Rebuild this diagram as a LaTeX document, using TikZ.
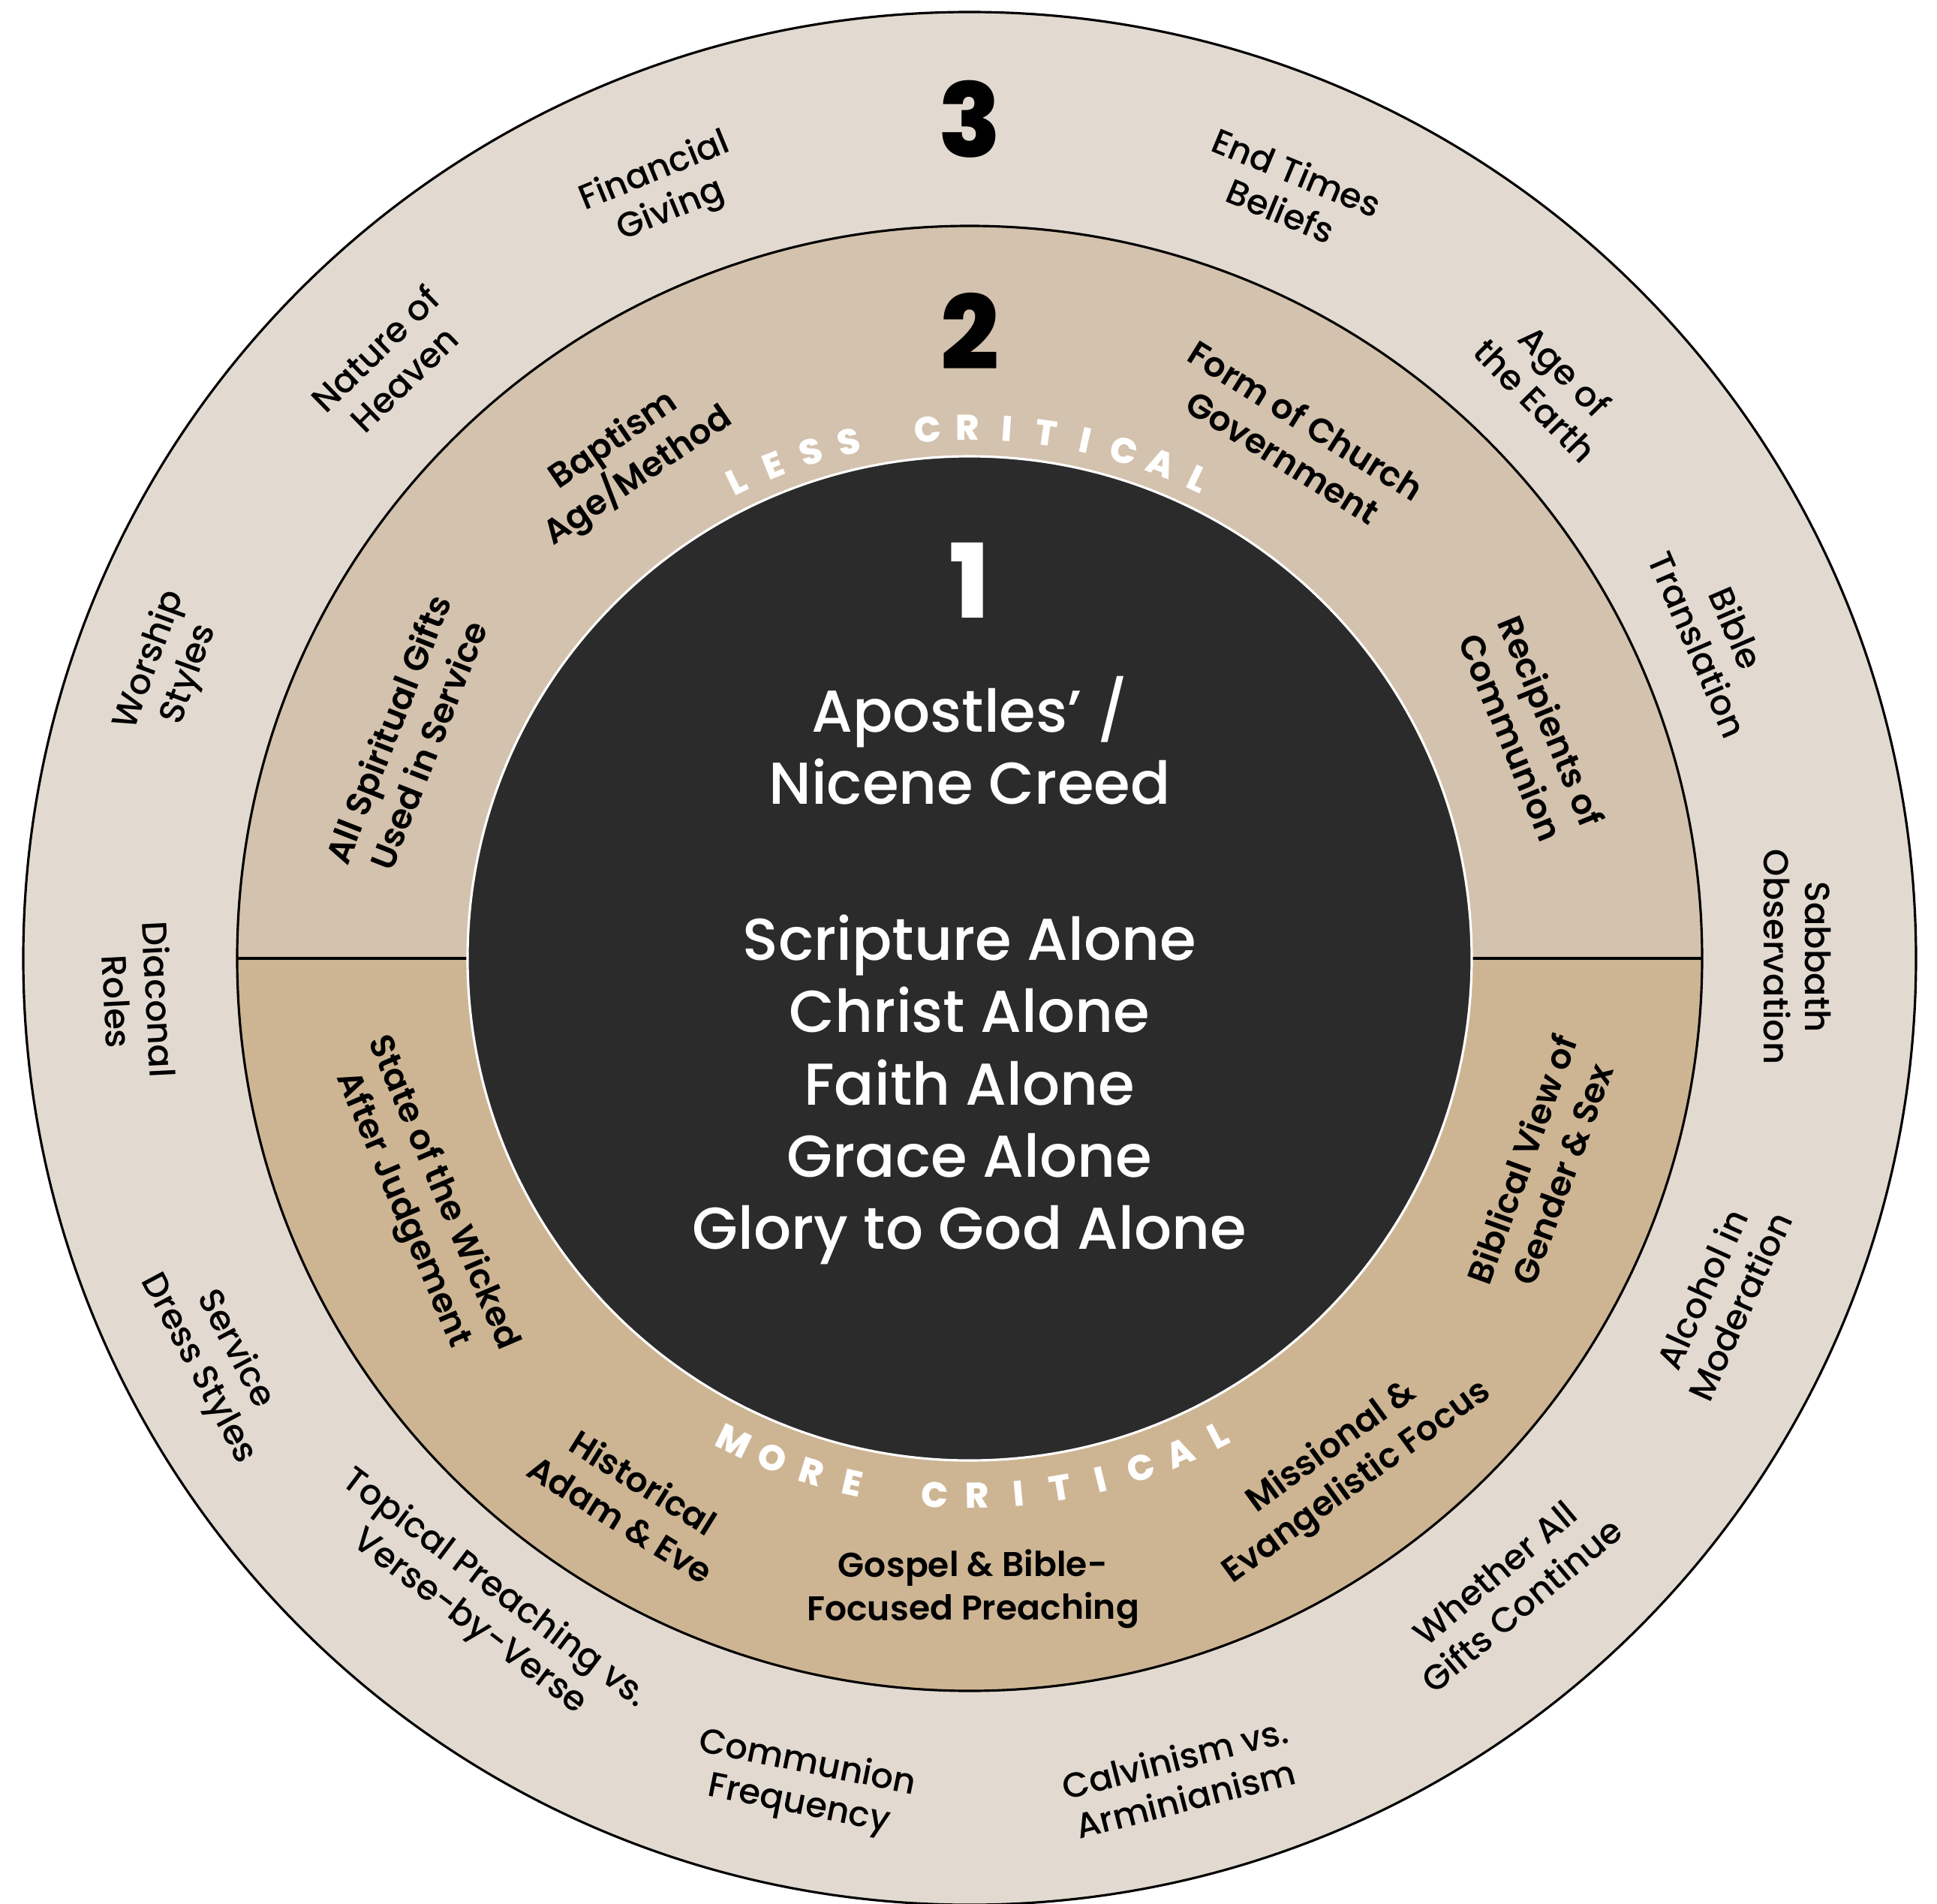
\documentclass[tikz,border=0pt]{standalone}
\usepackage{fontspec}
\setmainfont{Poppins}[UprightFont={* Medium},BoldFont={* ExtraBold}]
\newfontfamily\semifont{Poppins SemiBold}

\definecolor{outerring}{HTML}{E2DAD0}
\definecolor{upperring}{HTML}{D3C2AD}
\definecolor{lowerring}{HTML}{CDB594}
\definecolor{corefill}{HTML}{2B2B2B}

\begin{document}
\begin{tikzpicture}[x=1cm,y=1cm]

	\tikzstyle{ring_text} = [align=center, inner sep=0pt, font=\fontsize{13.2}{15.8}\selectfont]
	\tikzstyle{mid_text} = [align=center, inner sep=0pt, font=\semifont\fontsize{13}{16.4}\selectfont]
	\tikzstyle{core_text} = [align=center, inner sep=0pt, text=white, font=\fontsize{22.4}{27.4}\selectfont]
	\tikzstyle{level_num} = [inner sep=0pt, font=\fontsize{39}{39}\selectfont\bfseries]
	\tikzstyle{arc_letter} = [inner sep=0pt, text=white, font=\fontsize{13.5}{13.5}\selectfont\bfseries]
	\tikzstyle{ring_line} = [line width=0.9pt]

	\useasboundingbox (-12.92,-12.59) rectangle (12.89,12.77);

%------------------------------------------------------------
	\fill[outerring] (0,0) circle (12.61);
	\draw[ring_line] (0,0) circle (12.61);

	\fill[upperring] (9.76,0) arc (0:180:9.76) -- cycle;
	\fill[lowerring] (-9.76,0) arc (180:360:9.76) -- cycle;
	\draw[ring_line] (0,0) circle (9.76);

	\coordinate (div_l_out) at (180:9.76);
	\coordinate (div_l_in)  at (180:6.69);
	\coordinate (div_r_in)  at (0:6.69);
	\coordinate (div_r_out) at (0:9.76);
	\draw[ring_line] (div_l_out) -- (div_l_in);
	\draw[ring_line] (div_r_in) -- (div_r_out);

	\fill[corefill, draw=white, ring_line] (0,0) circle (6.69);

%------------------------------------------------------------
	\node[level_num] (num3) at (90:11.18) {3};
	\node[level_num] (num2) at (90:8.36) {2};
	\node[level_num, text=white] (num1) at (90:5.04) {1};

	\node[core_text] (creed) at (0,2.90) {Apostles’ /\\Nicene Creed};
	\node[core_text] (solas) at (0,-1.75) {Scripture Alone\\Christ Alone\\Faith Alone\\Grace Alone\\Glory to God Alone};

%------------------------------------------------------------
	\foreach \ch [count=\i from 0] in {L,E,S,S,{},C,R,I,T,I,C,A,L}
		\node[arc_letter, rotate=116-\i*4.29-90] (less\i) at ({116-\i*4.29}:7.07) {\ch};

	\foreach \ch [count=\i from 0] in {M,O,R,E,{},C,R,I,T,I,C,A,L}
		\node[arc_letter, rotate=244+\i*4.46+90] (more\i) at ({244+\i*4.46}:7.16) {\ch};

%------------------------------------------------------------
	\node[mid_text, rotate=34.4]  (baptism)    at (124.5:8.07) {Baptism\\Age/Method};
	\node[mid_text, rotate=-32]   (government) at (58:8.17)    {Form of Church\\Government};
	\node[mid_text, rotate=68.5]  (gifts)      at (158.5:8.05) {All Spiritual Gifts\\Used in Service};
	\node[mid_text, rotate=-67.8] (recipients) at (22.2:8.09)  {Recipients of\\Communion};
	\node[mid_text, rotate=-66.9] (wicked)     at (203.95:7.98) {State of the Wicked\\After Judgement};
	\node[mid_text, rotate=70]    (gender)     at (-20:8.11)   {Biblical View of\\Gender \& Sex};
	\node[mid_text, rotate=-31.9] (adam)       at (238.1:8.51) {Historical\\Adam \& Eve};
	\node[mid_text, rotate=0.3]   (gospel)     at (270.3:8.41) {Gospel \& Bible-\\Focused Preaching};
	\node[mid_text, rotate=36]    (missional)  at (-53.5:8.40) {Missional \&\\Evangelistic Focus};

%------------------------------------------------------------
	\node[ring_text, rotate=22.2]  (giving)     at (111.8:11.0)  {Financial\\Giving};
	\node[ring_text, rotate=-22.6] (endtimes)   at (67.4:11.07)  {End Times\\Beliefs};
	\node[ring_text, rotate=44.3]  (heaven)     at (134.3:11.07) {Nature of\\Heaven};
	\node[ring_text, rotate=-45.4] (earth)      at (44.6:10.87)  {Age of\\the Earth};
	\node[ring_text, rotate=70]    (worship)    at (160:11.34)   {Worship\\Styles};
	\node[ring_text, rotate=-66.7] (translation) at (23.3:10.85) {Bible\\Translation};
	\node[ring_text, rotate=-87.1] (diaconal)   at (182.9:11.09) {Diaconal\\Roles};
	\node[ring_text, rotate=-89.9] (sabbath)    at (0.1:11.03)   {Sabbath\\Observation};
	\node[ring_text, rotate=65.7]  (alcohol)    at (-24.3:10.98) {Alcohol in\\Moderation};
	\node[ring_text, rotate=-62]   (dress)      at (208:11.37)   {Service\\Dress Styles};
	\node[ring_text, rotate=40]    (continue)   at (-49.5:11.05) {Whether All\\Gifts Continue};
	\node[ring_text, rotate=-37]   (preaching)  at (233:10.8)    {Topical Preaching vs.\\Verse-by-Verse};
	\node[ring_text, rotate=-11.4] (frequency)  at (258.6:11.23) {Communion\\Frequency};
	\node[ring_text, rotate=14.4]  (calvinism)  at (284.4:11.28) {Calvinism vs.\\Arminianism};

\end{tikzpicture}
\end{document}
